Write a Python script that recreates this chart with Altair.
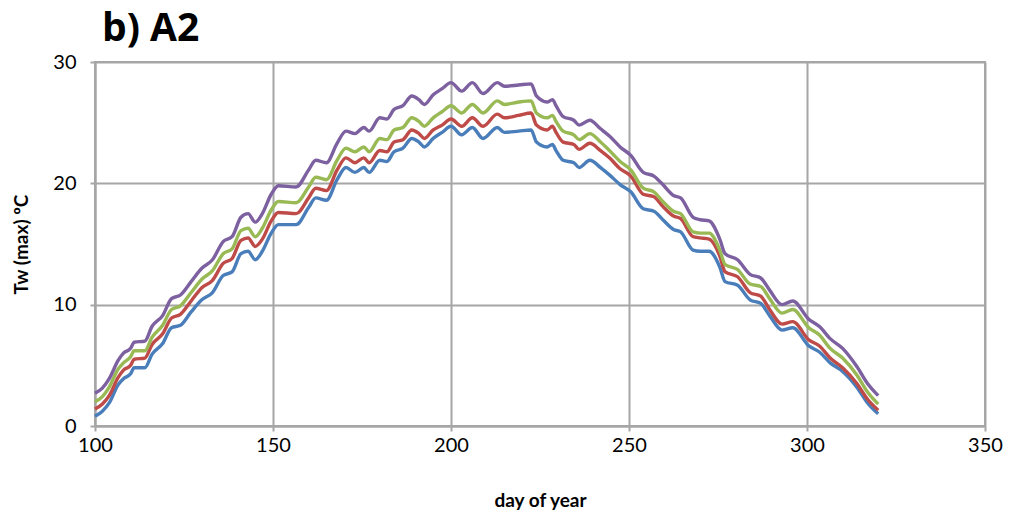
import altair as alt
import pandas as pd

days = [100, 102, 104, 106.5, 108, 110, 111, 114, 116, 119, 121.5, 124, 127, 130, 133, 136, 138.5,
        141, 143, 145, 147, 149.5, 151.5, 156.5, 160, 162, 165, 168, 170.5, 173, 175.5, 177, 180,
        182, 184, 186.5, 189, 191, 192.5, 195, 197.5, 200, 203, 206, 209, 213, 215, 219, 222.5,
        224, 227, 228.5, 229.5, 231.5, 234.5, 236, 239, 242, 244.5, 247.5, 250.5, 254, 257, 259.5,
        262.5, 264.5, 268, 270, 272.5, 275.5, 277, 280.5, 284, 287, 289.5, 293, 296, 300.5, 303.5,
        306.5, 310, 314, 317, 320]

blue = [0.8, 1.2, 1.9, 3.4, 3.9, 4.3, 4.8, 4.8, 5.9, 6.8, 8.1, 8.3, 9.4, 10.4, 11.0, 12.4, 12.7,
        14.2, 14.4, 13.7, 14.4, 15.9, 16.6, 16.6, 18.0, 18.8, 18.6, 20.3, 21.3, 20.9, 21.3, 20.9, 21.9,
        21.8, 22.6, 22.9, 23.7, 23.4, 23.0, 23.7, 24.2, 24.7, 24.0, 24.6, 23.7, 24.6, 24.2, 24.3, 24.4,
        23.4, 23.0, 23.2, 22.7, 21.9, 21.7, 21.3, 21.9, 21.3, 20.7, 19.9, 19.3, 17.9, 17.7, 17.0,
        16.2, 16.0, 14.5, 14.4, 14.4, 13.1, 11.9, 11.6, 10.4, 10.1, 9.1, 7.9, 8.1, 6.6, 6.1,
        5.2, 4.5, 3.2, 1.9, 1.0]

red = [1.4, 1.8, 2.5, 4.0, 4.6, 5.0, 5.5, 5.6, 6.7, 7.6, 8.9, 9.2, 10.3, 11.4, 12.0, 13.4, 13.8,
       15.3, 15.5, 14.8, 15.4, 16.9, 17.6, 17.5, 18.8, 19.6, 19.4, 21.1, 22.1, 21.7, 22.1, 21.7, 22.7,
       22.6, 23.4, 23.6, 24.4, 24.1, 23.7, 24.4, 24.8, 25.3, 24.7, 25.4, 24.7, 25.7, 25.4, 25.6, 25.8,
       24.8, 24.4, 24.7, 24.2, 23.4, 23.2, 22.8, 23.3, 22.7, 22.1, 21.2, 20.6, 19.1, 18.9, 18.1,
       17.3, 17.1, 15.6, 15.5, 15.4, 14.0, 12.7, 12.3, 11.0, 10.7, 9.6, 8.4, 8.6, 7.1, 6.6,
       5.6, 4.8, 3.5, 2.2, 1.3]

green = [2.0, 2.4, 3.2, 4.7, 5.2, 5.7, 6.2, 6.2, 7.3, 8.3, 9.6, 9.9, 11.0, 12.1, 12.8, 14.2, 14.6,
         16.1, 16.3, 15.6, 16.3, 17.8, 18.5, 18.4, 19.7, 20.5, 20.3, 21.9, 22.9, 22.6, 23.0, 22.6, 23.7,
         23.6, 24.4, 24.6, 25.4, 25.1, 24.7, 25.4, 25.9, 26.4, 25.8, 26.5, 25.8, 26.8, 26.5, 26.7, 26.8,
         25.8, 25.4, 25.6, 25.1, 24.3, 24.0, 23.6, 24.1, 23.4, 22.7, 21.8, 21.1, 19.6, 19.3, 18.5,
         17.7, 17.5, 16.0, 15.9, 15.9, 14.5, 13.3, 12.9, 11.7, 11.5, 10.5, 9.3, 9.6, 8.1, 7.5,
         6.4, 5.6, 4.2, 2.8, 1.8]

purple = [2.7, 3.1, 3.9, 5.4, 6.0, 6.4, 6.9, 7.0, 8.2, 9.1, 10.5, 10.8, 11.9, 13.0, 13.7, 15.2, 15.6,
          17.2, 17.5, 16.8, 17.5, 19.1, 19.8, 19.7, 21.1, 21.9, 21.7, 23.3, 24.3, 24.1, 24.6, 24.3, 25.4,
          25.3, 26.1, 26.4, 27.2, 26.9, 26.5, 27.3, 27.8, 28.3, 27.6, 28.3, 27.4, 28.3, 28.0, 28.1, 28.2,
          27.2, 26.7, 26.9, 26.4, 25.5, 25.2, 24.8, 25.2, 24.5, 23.9, 23.0, 22.3, 20.9, 20.6, 19.9,
          19.0, 18.8, 17.2, 17.0, 16.9, 15.4, 14.2, 13.7, 12.5, 12.2, 11.2, 10.0, 10.3, 8.8, 8.2,
          7.2, 6.4, 4.9, 3.5, 2.5]

series_names = ["s1", "s2", "s3", "s4"]
series_colors = ["#4A7EBB", "#BE4B48", "#98B954", "#7D60A0"]

rows = []
for name, vals in zip(series_names, [blue, red, green, purple]):
    for d, v in zip(days, vals):
        rows.append({"day": d, "value": v, "series": name})
df = pd.DataFrame(rows)

FONT = "Lato"

chart = alt.Chart(df).mark_line(strokeWidth=3.4, interpolate="monotone", strokeJoin="round").encode(
    x=alt.X("day:Q", scale=alt.Scale(domain=[100, 350], nice=False),
            axis=alt.Axis(values=[100, 150, 200, 250, 300, 350], title="day of year",
                          titleFontWeight="bold", titleFontSize=19, titlePadding=36,
                          labelFontSize=20, labelPadding=4, tickSize=5, labelFlush=False)),
    y=alt.Y("value:Q", scale=alt.Scale(domain=[0, 30], nice=False),
            axis=alt.Axis(values=[0, 10, 20, 30], title="Tw (max) ºC",
                          titleFontWeight="bold", titleFontSize=19, titlePadding=21,
                          labelFontSize=20, labelPadding=14, tickSize=5, labelFlush=False)),
    color=alt.Color("series:N", scale=alt.Scale(domain=series_names, range=series_colors), legend=None),
    order=alt.Order("series:N"),
).properties(
    width=890, height=364,
    title=alt.TitleParams(text="b) A2", anchor="start", frame="group", fontSize=39, fontWeight="bold",
                          font="Open Sans", color="#000000", dx=7, offset=3),
    autosize=alt.AutoSizeParams(type="none"),
    padding={"left": 87, "top": 54, "right": 19, "bottom": 84},
).configure_axis(
    gridColor="#A6A6A6", gridWidth=2, domainColor="#A6A6A6", domainWidth=2,
    tickColor="#A6A6A6", tickWidth=2, labelFont=FONT, titleFont=FONT,
    labelColor="#000000", titleColor="#000000",
).configure_view(stroke="#A6A6A6", strokeWidth=2)

chart.save("out.html", embed_options={"renderer": "svg", "actions": False})
